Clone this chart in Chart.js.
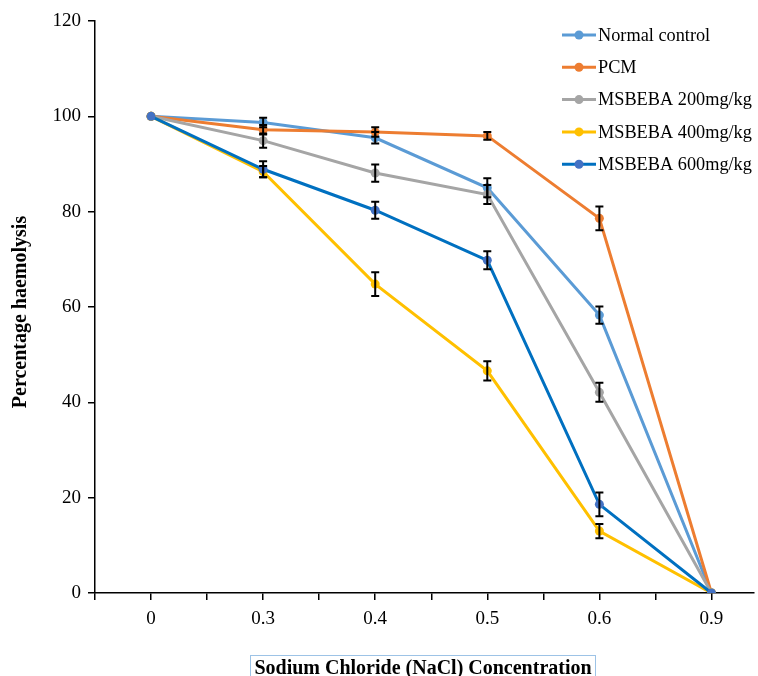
<!DOCTYPE html>
<html>
<head>
<meta charset="utf-8">
<title>Percentage haemolysis</title>
<script src="https://cdn.jsdelivr.net/npm/chart.js@4.4.1/dist/chart.umd.min.js"></script>
<style>
  html, body { margin: 0; padding: 0; background: #fff; }
  #wrap { width: 758px; height: 676px; position: relative; }
</style>
</head>
<body>
<div id="wrap"><canvas id="chart"></canvas></div>
<script>
// NaCl concentrations (category labels on the x axis)
const CONCENTRATIONS = ['0', '0.3', '0.4', '0.5', '0.6', '0.9'];
const Y_TICKS = [0, 20, 40, 60, 80, 100, 120];

const SERIES_NAMES = ['Normal control', 'PCM', 'MSBEBA 200mg/kg', 'MSBEBA 400mg/kg', 'MSBEBA 600mg/kg'];

// percentage haemolysis
const normalControl = [100, 98.7, 95.5, 85.0, 58.3, 0];
const pcm           = [100, 97.2, 96.7, 95.9, 78.6, 0];
const msbeba200     = [100, 94.9, 88.1, 83.6, 42.1, 0];
const msbeba400     = [100, 88.4, 64.8, 46.6, 13.0, 0];
const msbeba600     = [100, 88.9, 80.3, 69.8, 18.6, 0];

// error bar half-widths (same units)
const normalErr = [0, 1.0, 1.2, 2.0, 1.8, 0];
const pcmErr    = [0, 1.0, 1.0, 0.8, 2.5, 0];
const m200Err   = [0, 1.5, 1.8, 2.0, 2.0, 0];
const m400Err   = [0, 1.2, 2.5, 2.0, 1.5, 0];
const m600Err   = [0, 1.7, 1.8, 1.9, 2.5, 0];

const LINE_COLORS   = ['#5b9bd5', '#ed7d31', '#a5a5a5', '#ffc000', '#0070c0'];
const MARKER_COLORS = ['#5b9bd5', '#ed7d31', '#a5a5a5', '#ffc000', '#4472c4'];

const SERIF = '"Liberation Serif", "Times New Roman", serif';

const seriesValues = [normalControl, pcm, msbeba200, msbeba400, msbeba600];
const seriesErrors = [normalErr, pcmErr, m200Err, m400Err, m600Err];

// plot spans 95px..753px, each category 112px wide
const PLOT_LEFT = 95;
const PLOT_RIGHT = 753;
const CAT_WIDTH = 112;

const datasets = SERIES_NAMES.map((name, i) => ({
  label: name,
  data: seriesValues[i].map((v, j) => ({ x: j, y: v })),
  errors: seriesErrors[i],
  borderColor: LINE_COLORS[i],
  backgroundColor: MARKER_COLORS[i],
  pointBackgroundColor: MARKER_COLORS[i],
  pointBorderColor: MARKER_COLORS[i],
  borderWidth: 3,
  pointRadius: 4.5,
  pointBorderWidth: 0,
  tension: 0,
  order: SERIES_NAMES.length - i,
}));

// Error bars drawn from each dataset's errors array
const errorBars = {
  id: 'errorBars',
  afterDatasetsDraw(chart) {
    const ctx = chart.ctx;
    const y = chart.scales.y;
    ctx.save();
    ctx.strokeStyle = '#000';
    ctx.lineWidth = 2;
    chart.data.datasets.forEach((ds, i) => {
      const meta = chart.getDatasetMeta(i);
      meta.data.forEach((pt, j) => {
        const e = ds.errors[j];
        if (!e) return;
        const v = ds.data[j].y;
        const top = y.getPixelForValue(v + e);
        const bot = y.getPixelForValue(v - e);
        ctx.beginPath();
        ctx.moveTo(pt.x, top); ctx.lineTo(pt.x, bot);
        ctx.moveTo(pt.x - 4, top); ctx.lineTo(pt.x + 4, top);
        ctx.moveTo(pt.x - 4, bot); ctx.lineTo(pt.x + 4, bot);
        ctx.stroke();
      });
    });
    ctx.restore();
  },
};

// Legend in the top-right corner, axis titles
const decorations = {
  id: 'decorations',
  afterDraw(chart) {
    const ctx = chart.ctx;
    ctx.save();
    ctx.font = '18.3px ' + SERIF;
    ctx.textBaseline = 'middle';
    ctx.textAlign = 'left';
    chart.data.datasets.forEach((ds, i) => {
      const yy = 35 + i * 32.3;
      ctx.strokeStyle = ds.borderColor;
      ctx.lineWidth = 3;
      ctx.beginPath();
      ctx.moveTo(562, yy); ctx.lineTo(596, yy);
      ctx.stroke();
      ctx.fillStyle = ds.pointBackgroundColor;
      ctx.beginPath();
      ctx.arc(579, yy, 4.5, 0, Math.PI * 2);
      ctx.fill();
      ctx.fillStyle = '#000';
      ctx.fillText(ds.label, 598, yy + 1);
    });

    // y axis title
    ctx.font = 'bold 20px ' + SERIF;
    ctx.textAlign = 'center';
    ctx.translate(21, 312);
    ctx.rotate(-Math.PI / 2);
    ctx.fillText('Percentage haemolysis', 0, 0);
    ctx.restore();

    // x axis title in a thin box
    ctx.save();
    ctx.font = 'bold 20px ' + SERIF;
    ctx.textAlign = 'center';
    ctx.textBaseline = 'middle';
    const title = 'Sodium Chloride (NaCl) Concentration';
    const w = ctx.measureText(title).width;
    const cx = 423;
    ctx.strokeStyle = '#9dc3e6';
    ctx.lineWidth = 1;
    ctx.strokeRect(Math.round(cx - w / 2 - 4) + 0.5, 655.5, Math.round(w + 8), 40);
    ctx.fillStyle = '#000';
    ctx.fillText(title, cx, 669);
    ctx.restore();
  },
};

const canvas = document.getElementById('chart');
canvas.width = 758;
canvas.height = 676;

new Chart(canvas.getContext('2d'), {
  type: 'line',
  data: { datasets },
  options: {
    responsive: false,
    animation: false,
    layout: { padding: { top: 21, right: 0, bottom: 0, left: 0 } },
    plugins: {
      legend: { display: false },
      tooltip: { enabled: false },
    },
    scales: {
      x: {
        type: 'linear',
        min: -0.5,
        max: -0.5 + (PLOT_RIGHT - PLOT_LEFT) / CAT_WIDTH,
        afterBuildTicks: scale => {
          const t = [];
          for (let v = -0.5; v <= 5.01; v += 0.5) t.push({ value: v });
          scale.ticks = t;
        },
        afterFit: scale => {
          scale.height = 83;
          scale.paddingLeft = 0;
          scale.paddingRight = 0;
        },
        border: { color: '#000', width: 1.5 },
        grid: { drawOnChartArea: false, drawTicks: true, tickLength: 7, color: '#000', lineWidth: 1.5 },
        ticks: {
          autoSkip: false,
          maxRotation: 0,
          padding: 8,
          color: '#000',
          font: { family: SERIF, size: 19 },
          callback: v => (Number.isInteger(v) ? CONCENTRATIONS[v] : ''),
        },
      },
      y: {
        min: 0,
        max: 120,
        afterBuildTicks: scale => { scale.ticks = Y_TICKS.map(v => ({ value: v })); },
        afterFit: scale => {
          scale.width = PLOT_LEFT;
          scale.paddingTop = 0;
          scale.paddingBottom = 0;
        },
        border: { color: '#000', width: 1.5 },
        grid: { drawOnChartArea: false, drawTicks: true, tickLength: 7, color: '#000', lineWidth: 1.5 },
        ticks: {
          padding: 7,
          color: '#000',
          font: { family: SERIF, size: 19 },
        },
      },
    },
  },
  plugins: [errorBars, decorations],
});
</script>
</body>
</html>
